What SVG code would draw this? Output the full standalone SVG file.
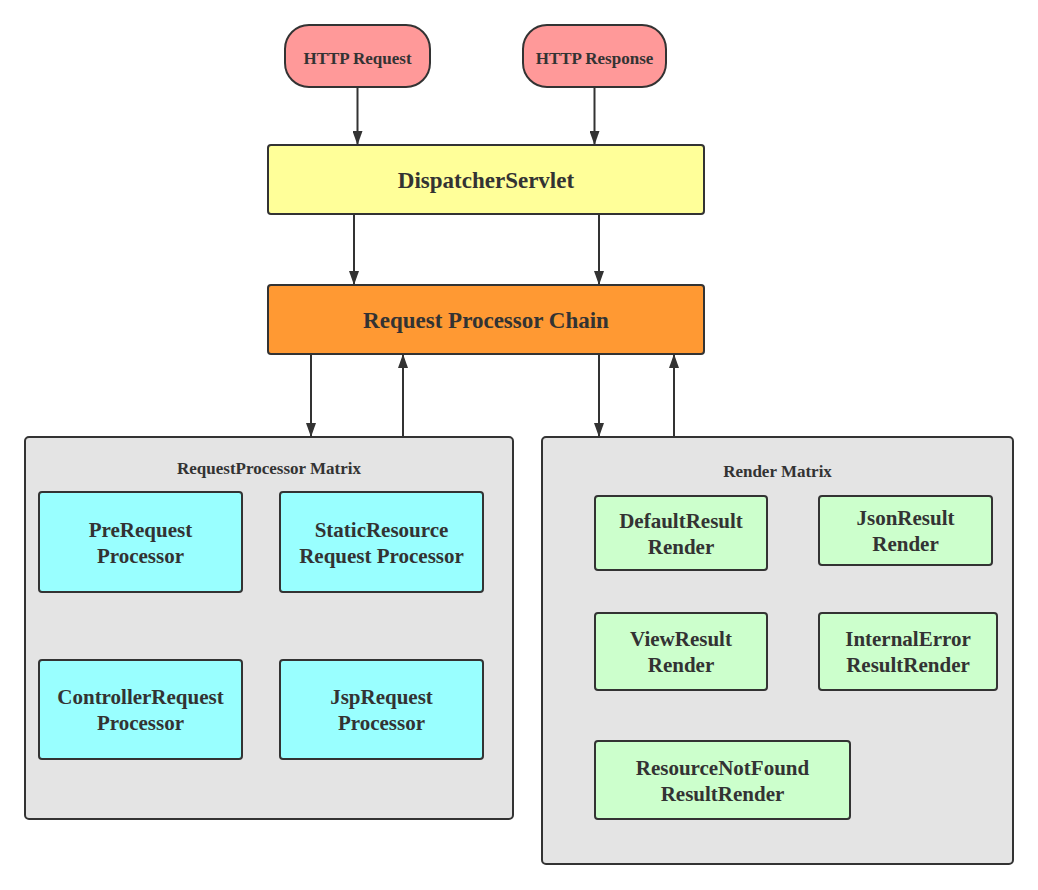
<svg xmlns="http://www.w3.org/2000/svg" width="1038" height="890" viewBox="0 0 1038 890">
<defs>
<marker id="ah" viewBox="0 0 14 10" refX="14" refY="5" markerWidth="14" markerHeight="10" markerUnits="userSpaceOnUse" orient="auto">
<path d="M0,0 L14,5 L0,10 Z" fill="#333"/>
</marker>
<style>
rect{stroke:#333;stroke-width:2}
text{font-family:"Liberation Serif","Times New Roman",serif;font-weight:bold;fill:#333;text-anchor:middle}
.http{fill:#FF9999}
.disp{fill:#FFFF99}
.chain{fill:#FF9933}
.matrix{fill:#E4E4E4}
.proc{fill:#99FFFF}
.rend{fill:#CCFFCC}
.lbl{font-size:21px}
.big{font-size:23px}
.sm{font-size:17px}
.ttl{font-size:17px}
.conn line{stroke:#333;stroke-width:2;marker-end:url(#ah)}
</style>
</defs>
<rect width="1038" height="890" fill="#fff" style="stroke:none"/>
<g id="http-request"><rect class="http" x="285" y="25" width="145" height="62" rx="24"/><text class="sm" x="357.5" y="64">HTTP Request</text></g>
<g id="http-response"><rect class="http" x="523" y="25" width="143" height="62" rx="24"/><text class="sm" x="594.5" y="64">HTTP Response</text></g>
<g id="dispatcher"><rect class="disp" x="268" y="145" width="436" height="69" rx="3"/><text class="big" x="486" y="188">DispatcherServlet</text></g>
<g id="chain"><rect class="chain" x="268" y="285" width="436" height="69" rx="3"/><text class="big" x="486" y="328">Request Processor Chain</text></g>
<g id="rp-matrix"><rect class="matrix" x="25" y="437" width="488" height="382" rx="4"/><text class="ttl" x="269" y="474">RequestProcessor Matrix</text></g>
<g id="pre"><rect class="proc" x="39" y="492" width="203" height="100" rx="3"/><text class="lbl" x="140.5" y="537">PreRequest</text><text class="lbl" x="140.5" y="563">Processor</text></g>
<g id="static"><rect class="proc" x="280" y="492" width="203" height="100" rx="3"/><text class="lbl" x="381.5" y="537">StaticResource</text><text class="lbl" x="381.5" y="563">Request Processor</text></g>
<g id="controller"><rect class="proc" x="39" y="660" width="203" height="99" rx="3"/><text class="lbl" x="140.5" y="704">ControllerRequest</text><text class="lbl" x="140.5" y="730">Processor</text></g>
<g id="jsp"><rect class="proc" x="280" y="660" width="203" height="99" rx="3"/><text class="lbl" x="381.5" y="704">JspRequest</text><text class="lbl" x="381.5" y="730">Processor</text></g>
<g id="render-matrix"><rect class="matrix" x="542" y="437" width="471" height="427" rx="4"/><text class="ttl" x="777.5" y="477">Render Matrix</text></g>
<g id="default"><rect class="rend" x="595" y="496" width="172" height="74" rx="3"/><text class="lbl" x="681" y="528">DefaultResult</text><text class="lbl" x="681" y="554">Render</text></g>
<g id="json"><rect class="rend" x="819" y="496" width="173" height="69" rx="3"/><text class="lbl" x="905.5" y="525">JsonResult</text><text class="lbl" x="905.5" y="551">Render</text></g>
<g id="view"><rect class="rend" x="595" y="613" width="172" height="77" rx="3"/><text class="lbl" x="681" y="646">ViewResult</text><text class="lbl" x="681" y="672">Render</text></g>
<g id="internal"><rect class="rend" x="819" y="613" width="178" height="77" rx="3"/><text class="lbl" x="908" y="646">InternalError</text><text class="lbl" x="908" y="672">ResultRender</text></g>
<g id="notfound"><rect class="rend" x="595" y="741" width="255" height="78" rx="3"/><text class="lbl" x="722.5" y="775">ResourceNotFound</text><text class="lbl" x="722.5" y="801">ResultRender</text></g>
<g class="conn" id="connectors">
<line x1="357.5" y1="87" x2="357.5" y2="145"/>
<line x1="594.5" y1="87" x2="594.5" y2="145"/>
<line x1="354" y1="214" x2="354" y2="285"/>
<line x1="599" y1="214" x2="599" y2="285"/>
<line x1="311" y1="354" x2="311" y2="437"/>
<line x1="403" y1="437" x2="403" y2="354"/>
<line x1="599" y1="354" x2="599" y2="437"/>
<line x1="674" y1="437" x2="674" y2="354"/>
</g>
</svg>
